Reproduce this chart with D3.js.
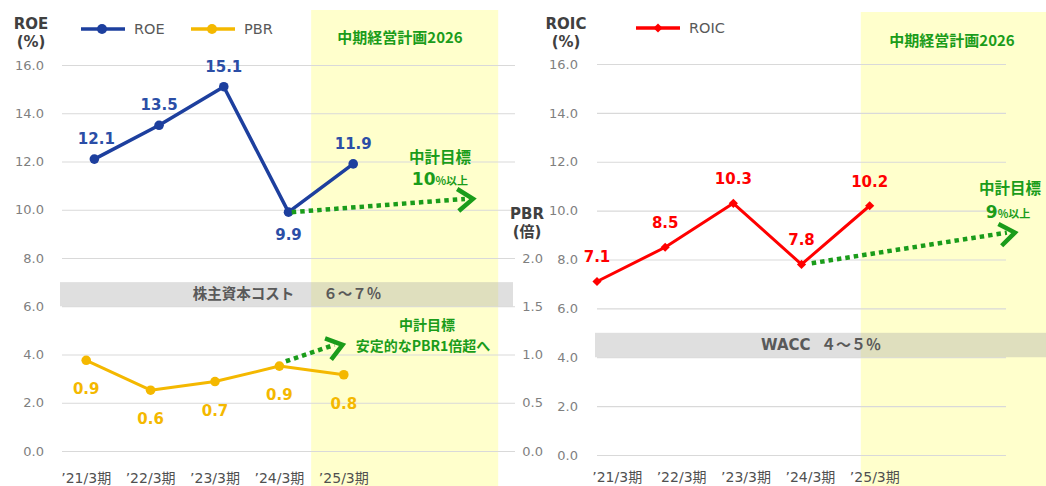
<!DOCTYPE html>
<html>
<head>
<meta charset="utf-8">
<script src="https://cdn.jsdelivr.net/npm/d3@7"></script>
<style>
  body { margin: 0; background: #fff; }
  svg { display: block; }
</style>
</head>
<body>
<svg id="drawing_region"></svg>
<script>
// values
const periods = ["’21/3期", "’22/3期", "’23/3期", "’24/3期", "’25/3期"];
const roe = [12.1, 13.5, 15.1, 9.9, 11.9];
const pbr = [0.94, 0.63, 0.72, 0.88, 0.79];
const roic = [7.1, 8.5, 10.3, 7.8, 10.2];
const roeTicks = [0, 2, 4, 6, 8, 10, 12, 14, 16];
const pbrTicks = [0, 0.5, 1.0, 1.5, 2.0];
const costOfEquity = [6, 7];
const wacc = [4, 5];
// target arrows: [index, value] from -> to
const roeTarget = [[3.05, 9.9], [5.85, 10.45]];
const pbrTarget = [[3.1, 0.93], [3.98, 1.1]];
const roicTarget = [[3.15, 7.85], [6.13, 9.1]];

const FONT = "'DejaVu Sans','Noto Sans CJK JP',sans-serif";
const JP = "'Noto Sans CJK JP','DejaVu Sans',sans-serif";
const GREEN = "#1a9c1a";
const BLUE = "#1d3f9e";
const GOLD = "#f4b800";
const RED = "#ff0000";
const fmt = d3.format(".1f");

const svg = d3.select("#drawing_region")
    .attr("width", 1046)
    .attr("height", 486)
    .style("font-family", FONT);

// ---------- scales ----------
const xRoe = d3.scaleLinear().domain([-0.5, 6.5]).range([62, 515]);
const xLeftCat = d3.scaleBand().domain(periods).range([54, 376]);
const xPbr = i => xLeftCat(periods[i]) + xLeftCat.bandwidth() / 2;
const yL = d3.scaleLinear().domain([0, 16]).range([451, 65]);
const yPbr = d3.scaleLinear().domain([0, 4]).range([451, 65]);

const xRoic = d3.scaleLinear().domain([0, 6]).range([597, 1006]);
const xRightCat = d3.scaleBand().domain(periods).range([585, 907]);
const yR = d3.scaleLinear().domain([0, 16]).range([455, 64]);

// ---------- plan period shading ----------
svg.append("rect")
    .attr("x", xRoe(3.35)).attr("y", 10)
    .attr("width", xRoe(6.24) - xRoe(3.35)).attr("height", 476)
    .attr("fill", "#ffffcc");
svg.append("rect")
    .attr("x", xRoic(3.87)).attr("y", 12)
    .attr("width", 1046 - xRoic(3.87)).attr("height", 474)
    .attr("fill", "#ffffcc");

// ---------- axes ----------
function styleAxis(g, size) {
    g.select(".domain").remove();
    g.selectAll(".tick line").attr("stroke", "#d9d9d9").attr("stroke-width", 1.2);
    g.selectAll(".tick text")
        .attr("fill", "#7f7f7f")
        .style("font-family", FONT)
        .style("font-size", size + "px");
}

svg.append("g")
    .attr("transform", "translate(62,0)")
    .call(d3.axisLeft(yL).tickValues(roeTicks).tickFormat(fmt).tickSize(-(515 - 62)).tickPadding(18))
    .call(g => styleAxis(g, 13));

svg.append("g")
    .attr("transform", "translate(546,0)")
    .call(d3.axisLeft(yPbr).tickValues(pbrTicks).tickFormat(fmt).tickSize(0).tickPadding(3))
    .call(g => styleAxis(g, 13));

svg.append("g")
    .attr("transform", "translate(597,0)")
    .call(d3.axisLeft(yR).tickValues(roeTicks).tickFormat(fmt).tickSize(-(1006 - 597)).tickPadding(19))
    .call(g => styleAxis(g, 13));

function styleCat(g) {
    g.select(".domain").remove();
    g.selectAll(".tick line").remove();
    g.selectAll(".tick text")
        .attr("fill", "#505050")
        .style("font-family", FONT)
        .style("font-size", "14px");
}
svg.append("g")
    .attr("transform", "translate(0,473)")
    .call(d3.axisBottom(xLeftCat).tickSize(0).tickPadding(0))
    .call(styleCat);
svg.append("g")
    .attr("transform", "translate(0,472)")
    .call(d3.axisBottom(xRightCat).tickSize(0).tickPadding(0))
    .call(styleCat);

// ---------- cost bands ----------
svg.append("rect")
    .attr("x", 60).attr("y", yL(costOfEquity[1]))
    .attr("width", 513 - 60).attr("height", yL(costOfEquity[0]) - yL(costOfEquity[1]))
    .attr("fill", "#a6a6a6").attr("fill-opacity", 0.36);
svg.append("text")
    .attr("x", 287).attr("y", (yL(costOfEquity[0]) + yL(costOfEquity[1])) / 2)
    .attr("dy", "0.36em").attr("text-anchor", "middle")
    .attr("fill", "#595959").style("font-weight", "bold").style("font-size", "14.5px")
    .style("font-family", JP)
    .attr("xml:space", "preserve")
    .text("株主資本コスト　　６～７％");

svg.append("rect")
    .attr("x", 595).attr("y", yR(wacc[1]))
    .attr("width", 1046 - 595).attr("height", yR(wacc[0]) - yR(wacc[1]))
    .attr("fill", "#a6a6a6").attr("fill-opacity", 0.36);
svg.append("text")
    .attr("x", 821).attr("y", (yR(wacc[0]) + yR(wacc[1])) / 2)
    .attr("dy", "0.36em").attr("text-anchor", "middle")
    .attr("fill", "#595959").style("font-weight", "bold").style("font-size", "15px")
    .attr("xml:space", "preserve")
    .text("WACC  ４～５％");

// ---------- series ----------
const roeLine = d3.line().x((d, i) => xRoe(i)).y(d => yL(d));
svg.append("path").datum(roe)
    .attr("d", roeLine).attr("fill", "none")
    .attr("stroke", BLUE).attr("stroke-width", 3.5).attr("stroke-linejoin", "round");
svg.selectAll(".roe-dot").data(roe).join("circle")
    .attr("cx", (d, i) => xRoe(i)).attr("cy", d => yL(d)).attr("r", 4.8)
    .attr("fill", BLUE);
svg.selectAll(".roe-lbl").data(roe).join("text")
    .attr("x", (d, i) => xRoe(i) + (i === 0 ? 2 : 0))
    .attr("y", (d, i) => i === 3 ? yL(d) + 28 : yL(d) - 15)
    .attr("text-anchor", "middle")
    .attr("fill", "#2b4ea6").style("font-weight", "bold").style("font-size", "15px")
    .text(d => fmt(d));

const pbrLine = d3.line().x((d, i) => xPbr(i)).y(d => yPbr(d));
svg.append("path").datum(pbr)
    .attr("d", pbrLine).attr("fill", "none")
    .attr("stroke", GOLD).attr("stroke-width", 3).attr("stroke-linejoin", "round");
svg.selectAll(".pbr-dot").data(pbr).join("circle")
    .attr("cx", (d, i) => xPbr(i)).attr("cy", d => yPbr(d)).attr("r", 4.8)
    .attr("fill", GOLD);
svg.selectAll(".pbr-lbl").data(pbr).join("text")
    .attr("x", (d, i) => xPbr(i))
    .attr("y", d => yPbr(d) + 34)
    .attr("text-anchor", "middle")
    .attr("fill", GOLD).style("font-weight", "bold").style("font-size", "15px")
    .text(d => fmt(d));

const roicLine = d3.line().x((d, i) => xRoic(i)).y(d => yR(d));
svg.append("path").datum(roic)
    .attr("d", roicLine).attr("fill", "none")
    .attr("stroke", RED).attr("stroke-width", 3).attr("stroke-linejoin", "round");
svg.selectAll(".roic-dot").data(roic).join("path")
    .attr("d", d3.symbol(d3.symbolSquare, 42))
    .attr("transform", (d, i) => `translate(${xRoic(i)},${yR(d)}) rotate(45)`)
    .attr("fill", RED);
svg.selectAll(".roic-lbl").data(roic).join("text")
    .attr("x", (d, i) => xRoic(i))
    .attr("y", d => yR(d) - 19)
    .attr("text-anchor", "middle")
    .attr("fill", RED).style("font-weight", "bold").style("font-size", "15px")
    .text(d => fmt(d));

// ---------- target arrows ----------
function arrow(p0, p1) {
    svg.append("line")
        .attr("x1", p0[0]).attr("y1", p0[1]).attr("x2", p1[0] - 8).attr("y2", p1[1])
        .attr("stroke", GREEN).attr("stroke-width", 4.5)
        .attr("stroke-dasharray", "4.5,4");
    const a = Math.atan2(p1[1] - p0[1], p1[0] - p0[0]) * 180 / Math.PI;
    svg.append("path")
        .attr("d", "M-15,-11L0,0L-15,11")
        .attr("transform", `translate(${p1[0]},${p1[1]}) rotate(${a})`)
        .attr("fill", "none").attr("stroke", GREEN).attr("stroke-width", 4.5)
        .attr("stroke-linejoin", "miter");
}
arrow([xRoe(roeTarget[0][0]), yL(roeTarget[0][1])], [xRoe(roeTarget[1][0]), yL(roeTarget[1][1])]);
const pbrX = d3.scaleLinear().domain([0, 1]).range([xPbr(0), xPbr(1)]);
arrow([pbrX(pbrTarget[0][0]), yPbr(pbrTarget[0][1])], [pbrX(pbrTarget[1][0]), yPbr(pbrTarget[1][1])]);
arrow([xRoic(roicTarget[0][0]), yR(roicTarget[0][1])], [xRoic(roicTarget[1][0]), yR(roicTarget[1][1])]);

function greenText(x, y, txt, size) {
    return svg.append("text")
        .attr("x", x).attr("y", y).attr("text-anchor", "middle")
        .attr("fill", GREEN).style("font-weight", "bold")
        .style("font-size", size + "px").style("font-family", JP)
        .text(txt);
}
greenText(400, 43, "中期経営計画2026", 15);
greenText(952, 46, "中期経営計画2026", 15);

greenText(440, 163, "中計目標", 15.5);
const t1 = greenText(440, 185, "", 17);
t1.append("tspan").text("10").style("font-family", FONT);
t1.append("tspan").text("%以上").style("font-size", "11px");

greenText(1010, 194, "中計目標", 15.5);
const t2 = greenText(1008, 218, "", 17);
t2.append("tspan").text("9").style("font-family", FONT);
t2.append("tspan").text("%以上").style("font-size", "11px");

greenText(427, 330, "中計目標", 14);
greenText(423, 351, "安定的なPBR1倍超へ", 14);

// ---------- axis titles ----------
function title(x, y, lines) {
    const t = svg.append("text").attr("text-anchor", "middle")
        .attr("fill", "#404040").style("font-weight", "bold").style("font-size", "15px");
    lines.forEach((s, i) => t.append("tspan").attr("x", x).attr("y", y + i * 18).text(s));
}
title(31, 29, ["ROE", "(%)"]);
title(566, 29, ["ROIC", "(%)"]);
title(527, 219, ["PBR", "(倍)"]);

// ---------- legends ----------
function legend(x, y, color, label, shape) {
    const g = svg.append("g").attr("transform", `translate(${x},${y})`);
    g.append("line").attr("x1", 0).attr("x2", 44).attr("stroke", color).attr("stroke-width", 3.5);
    if (shape === "circle") {
        g.append("circle").attr("cx", 21).attr("r", 5).attr("fill", color);
    } else {
        g.append("path").attr("d", d3.symbol(d3.symbolSquare, 42))
            .attr("transform", "translate(22,0) rotate(45)").attr("fill", color);
    }
    g.append("text").attr("x", 53).attr("dy", "0.36em")
        .attr("fill", "#595959").style("font-size", "14.5px").text(label);
}
legend(81, 29, BLUE, "ROE", "circle");
legend(191, 29, GOLD, "PBR", "circle");
legend(636, 28, RED, "ROIC", "diamond");
</script>
</body>
</html>
